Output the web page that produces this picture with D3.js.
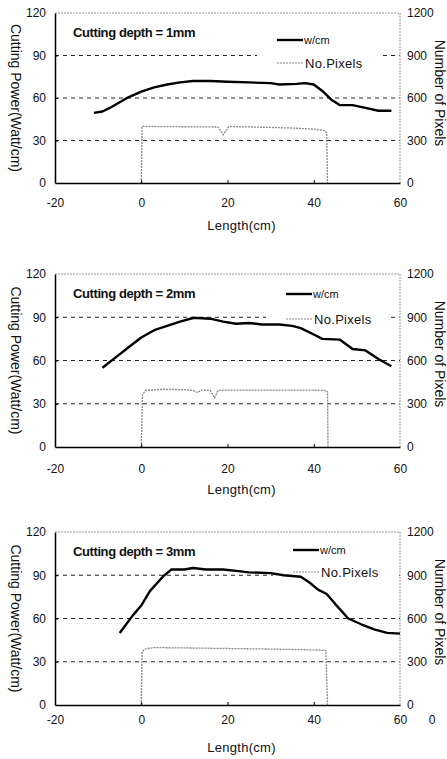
<!DOCTYPE html>
<html>
<head>
<meta charset="utf-8">
<script src="https://cdn.jsdelivr.net/npm/d3@7"></script>
<style>
  body { margin: 0; background: #fff; }
  text { font-family: "Liberation Sans", Arial, sans-serif; fill: #111; }
</style>
</head>
<body>
<script>
// data
var xTicks = [-20, 0, 20, 40, 60];
var leftTicks = [0, 30, 60, 90, 120];
var rightTicks = [0, 300, 600, 900, 1200];
var depths = ["1mm", "2mm", "3mm"];

var power1 = [[-11,49.5],[-9,50.5],[-7,53.5],[-5,57],[-3,60.5],[0,64.5],[3,67.5],[6,69.5],[9,71],[12,72],[16,72],[20,71.5],[25,71],[30,70.5],[32,69.5],[36,70],[38,70.5],[40,69.5],[42,65],[44,59],[46,55],[49,55],[52,53],[55,51],[58,51]];
var power2 = [[-9,55],[-6,62],[-3,69],[0,76],[3,81],[6,84],[9,87],[12,89.5],[13,89.5],[16,89],[19,87],[22,85.5],[25,86],[28,85],[32,85],[35,84],[37,82.5],[40,78],[42,75],[46,74.5],[49,68],[52,67],[55,61],[58,56]];
var power3 = [[-5,50],[-2,62],[0,69],[2,79],[5,89],[7,94],[10,94],[12,95],[15,94],[19,94],[22,93],[25,92],[30,91.5],[33,90],[37,89],[39,85],[41,80],[43,77],[45,70],[48,60],[51,56],[54,52.5],[57,50],[60,49.5]];

var pixels1 = [[0,0],[0.2,400],[5,398],[10,397],[15,396],[17.8,395],[19,340],[20.3,398],[25,396],[30,392],[35,388],[40,380],[42.5,370],[43,355],[43.2,0]];
var pixels2 = [[0,0],[0.3,365],[1,392],[5,400],[10,398],[12,392],[13,378],[14,395],[16,392],[17,340],[17.8,392],[20,395],[30,394],[40,394],[42.8,392],[43.2,380],[43.3,0]];
var pixels3 = [[0,0],[0.2,372],[1,390],[3,398],[10,396],[20,392],[30,388],[40,382],[42.8,378],[43.2,0]];

var powers = [power1, power2, power3];
var pixels = [pixels1, pixels2, pixels3];

const w = 447, h = 759,
      left = 55, right = 400;
var tops = [13, 274, 532],
    heights = [170, 173, 173],
    tickGap = [20, 22, 15],
    legendX = [277, 286, 293],
    legendY = [27, 20, 18],
    legendGap = [23, 25, 22];

const svg = d3.select("body").append("svg")
  .attr("width", w)
  .attr("height", h);

const xScale = d3.scaleLinear().domain([-20, 60]).range([left, right]);
const plain = d => String(d);

depths.forEach(function(depth, i) {
  var top = tops[i], bottom = top + heights[i];
  var yL = d3.scaleLinear().domain([0, 120]).range([bottom, top]);
  var yR = d3.scaleLinear().domain([0, 1200]).range([bottom, top]);
  var g = svg.append("g");

  // dashed grid
  g.selectAll(".grid").data([30, 60, 90]).enter().append("line")
    .attr("x1", left).attr("x2", right)
    .attr("y1", d => yL(d)).attr("y2", d => yL(d))
    .attr("stroke", "#222").attr("stroke-width", 1)
    .attr("stroke-dasharray", "4,4");

  // top and right frame
  g.append("line").attr("x1", left).attr("x2", right).attr("y1", top).attr("y2", top)
    .attr("stroke", "#999").attr("stroke-dasharray", "2,1");
  g.append("line").attr("x1", right).attr("x2", right).attr("y1", top).attr("y2", bottom)
    .attr("stroke", "#999").attr("stroke-dasharray", "2,1");

  // legend box hides the grid
  var lx = legendX[i], ly = top + legendY[i];
  g.append("rect").attr("x", lx - 20).attr("y", ly - 12)
    .attr("width", 122).attr("height", legendGap[i] + 22).attr("fill", "#fff");

  // pixel count
  g.append("path")
    .datum(pixels[i])
    .attr("d", d3.line().x(d => xScale(d[0])).y(d => yR(d[1])))
    .attr("fill", "none").attr("stroke", "#888").attr("stroke-width", 1.3)
    .attr("stroke-dasharray", "2,1");

  // cutting power
  g.append("path")
    .datum(powers[i])
    .attr("d", d3.line().x(d => xScale(d[0])).y(d => yL(d[1])))
    .attr("fill", "none").attr("stroke", "#000").attr("stroke-width", 2.4)
    .attr("stroke-linejoin", "round");

  // axes
  var xa = g.append("g")
    .attr("transform", "translate(0," + bottom + ")")
    .call(d3.axisBottom(xScale).tickValues(xTicks).tickFormat(plain)
      .tickSizeInner(-3).tickSizeOuter(0).tickPadding(tickGap[i]));
  var la = g.append("g")
    .attr("transform", "translate(" + left + ",0)")
    .call(d3.axisLeft(yL).tickValues(leftTicks).tickFormat(plain)
      .tickSizeInner(-3).tickSizeOuter(0).tickPadding(9));
  var ra = g.append("g")
    .attr("transform", "translate(" + right + ",0)")
    .call(d3.axisRight(yR).tickValues(rightTicks).tickFormat(plain).tickSize(0).tickPadding(7));
  ra.select(".domain").remove();
  [xa, la].forEach(a => a.select(".domain").attr("stroke", "#000").attr("stroke-width", 1.5));
  [xa, la, ra].forEach(a => a.selectAll("text").attr("font-size", 12)
    .attr("font-family", "'Liberation Sans', Arial, sans-serif").attr("fill", "#111"));
  xa.selectAll(".tick line").filter(d => d === -20 || d === 60).remove();
  la.selectAll(".tick line").filter(d => d === 0 || d === 120).remove();
  xa.selectAll("text").attr("dy", "0.3em");

  // title
  g.append("text")
    .text("Cutting depth = " + depth)
    .attr("x", 73).attr("y", top + 24)
    .attr("font-size", 13).attr("font-weight", "bold")
    .attr("letter-spacing", -0.4);

  // legend entries
  g.append("line").attr("x1", lx).attr("x2", lx + 26).attr("y1", ly).attr("y2", ly)
    .attr("stroke", "#000").attr("stroke-width", 2.4);
  g.append("text").text("w/cm").attr("x", lx + 27).attr("y", ly + 4).attr("font-size", 11);
  g.append("line").attr("x1", lx).attr("x2", lx + 26)
    .attr("y1", ly + legendGap[i]).attr("y2", ly + legendGap[i])
    .attr("stroke", "#888").attr("stroke-width", 1.2).attr("stroke-dasharray", "2,1");
  g.append("text").text("No.Pixels").attr("x", lx + 28).attr("y", ly + legendGap[i] + 5)
    .attr("font-size", 13).attr("letter-spacing", 0.3);

  // axis names
  g.append("text")
    .text("Length(cm)")
    .attr("x", (left + right) / 2 + 14).attr("y", bottom + 47)
    .attr("text-anchor", "middle").attr("font-size", 13).attr("letter-spacing", 0.3);

  g.append("text")
    .text("Cutting Power(Watt/cm)")
    .attr("text-anchor", "middle").attr("font-size", 14)
    .attr("transform", "translate(11," + (top + bottom) / 2 + ")rotate(90)");

  g.append("text")
    .text("Number of Pixels")
    .attr("text-anchor", "middle").attr("font-size", 14)
    .attr("transform", "translate(435," + (top + 80) + ")rotate(90)");
});

// stray label at bottom right of the last panel
svg.append("text").text("0")
  .attr("x", 432).attr("y", 724)
  .attr("text-anchor", "middle").attr("font-size", 12);
</script>
</body>
</html>
